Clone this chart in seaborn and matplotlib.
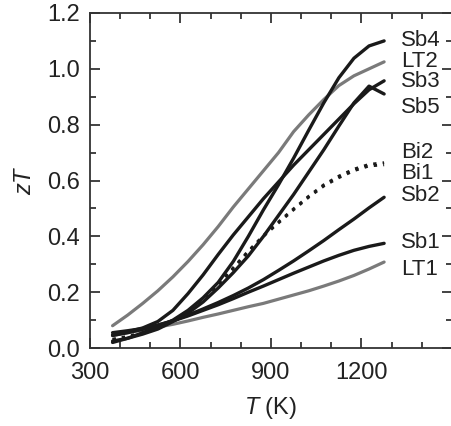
import matplotlib
matplotlib.use("Agg")
import matplotlib.pyplot as plt
import seaborn as sns
import pandas as pd

T = [375, 425, 475, 525, 575, 625, 675, 725, 775, 825, 875, 925, 975, 1025, 1075, 1125, 1175, 1225, 1275]

LT2 = [0.080, 0.118, 0.160, 0.205, 0.255, 0.310, 0.370, 0.435, 0.505, 0.570, 0.635, 0.700, 0.775, 0.835, 0.890, 0.940, 0.975, 1.000, 1.025]
LT1 = [0.045, 0.055, 0.065, 0.075, 0.085, 0.097, 0.110, 0.122, 0.135, 0.148, 0.160, 0.175, 0.190, 0.205, 0.222, 0.240, 0.260, 0.283, 0.308]
Sb1 = [0.055, 0.062, 0.070, 0.082, 0.097, 0.115, 0.135, 0.155, 0.177, 0.200, 0.222, 0.245, 0.268, 0.290, 0.312, 0.332, 0.350, 0.364, 0.375]
Sb2 = [0.045, 0.055, 0.067, 0.082, 0.098, 0.118, 0.140, 0.163, 0.188, 0.215, 0.245, 0.278, 0.312, 0.348, 0.385, 0.424, 0.462, 0.502, 0.540]
Sb3 = [0.047, 0.058, 0.072, 0.095, 0.135, 0.195, 0.262, 0.335, 0.405, 0.470, 0.535, 0.595, 0.655, 0.710, 0.765, 0.820, 0.875, 0.925, 0.957]
Sb4 = [0.020, 0.035, 0.055, 0.075, 0.100, 0.135, 0.180, 0.235, 0.310, 0.400, 0.495, 0.585, 0.680, 0.780, 0.878, 0.968, 1.038, 1.082, 1.100]
Sb5 = [0.025, 0.035, 0.050, 0.068, 0.095, 0.125, 0.165, 0.215, 0.270, 0.330, 0.400, 0.475, 0.550, 0.630, 0.710, 0.795, 0.878, 0.938, 0.910]
Bi1 = [0.030, 0.040, 0.052, 0.070, 0.095, 0.130, 0.175, 0.225, 0.285, 0.345, 0.400, 0.448, 0.495, 0.540, 0.580, 0.610, 0.635, 0.652, 0.656]
Bi2 = [0.032, 0.042, 0.055, 0.073, 0.098, 0.133, 0.178, 0.228, 0.288, 0.348, 0.403, 0.452, 0.499, 0.544, 0.585, 0.616, 0.641, 0.658, 0.664]

labels = ["Sb4", "LT2", "Sb3", "Sb5", "Bi2", "Bi1", "Sb2", "Sb1", "LT1"]
label_y = [1.100, 1.028, 0.953, 0.862, 0.700, 0.625, 0.548, 0.378, 0.280]
label_T = 1330

xticks = [300, 600, 900, 1200]
yticks = [0.0, 0.2, 0.4, 0.6, 0.8, 1.0, 1.2]

series = {"LT2": LT2, "LT1": LT1, "Sb1": Sb1, "Sb2": Sb2, "Sb3": Sb3,
          "Sb4": Sb4, "Sb5": Sb5, "Bi1": Bi1, "Bi2": Bi2}

rows = []
for name, vals in series.items():
    for t, v in zip(T, vals):
        rows.append({"T": t, "zT": v, "sample": name})
df = pd.DataFrame(rows)

sns.set_theme(style="ticks")
plt.rcParams["font.family"] = ["Liberation Sans", "DejaVu Sans"]
plt.rcParams["mathtext.fontset"] = "custom"
plt.rcParams["mathtext.rm"] = "Liberation Sans"
plt.rcParams["mathtext.it"] = "Liberation Sans:italic"

fig = plt.figure(figsize=(4.52, 4.26), dpi=100)
ax = fig.add_axes([0.199, 0.183, 0.801, 0.7865])

gray = "#7a7a7a"
black = "#1a1a1a"
for name in ["LT1", "LT2"]:
    sns.lineplot(data=df[df["sample"] == name], x="T", y="zT", ax=ax,
                 color=gray, lw=2.3, legend=False)
for name in ["Sb1", "Sb2", "Sb3", "Sb4", "Sb5"]:
    sns.lineplot(data=df[df["sample"] == name], x="T", y="zT", ax=ax,
                 color=black, lw=2.4, legend=False)
for name in ["Bi1", "Bi2"]:
    sns.lineplot(data=df[df["sample"] == name], x="T", y="zT", ax=ax,
                 color=black, lw=2.0, linestyle=(0, (1.2, 2.2)), legend=False)

for lab, yv in zip(labels, label_y):
    ax.text(label_T, yv, lab, fontsize=16, va="center", ha="left", color="#222222")

ax.set_xlim(300, 1500)
ax.set_ylim(0, 1.2)
ax.set_xticks(xticks)
ax.set_xticks(range(300, 1501, 100), minor=True)
ax.set_yticks(yticks)
ax.set_yticklabels([f"{v:.1f}" for v in yticks])
ax.set_yticks([i / 10 for i in range(0, 13)], minor=True)
ax.tick_params(which="both", direction="in", top=True, right=True,
               labelsize=17, colors="#222222", pad=7)
ax.tick_params(axis="x", which="both", pad=10)
ax.tick_params(which="major", length=7, width=1.2)
ax.tick_params(which="minor", length=4.5, width=1.2)
for s in ax.spines.values():
    s.set_linewidth(1.3)
    s.set_color("#333333")

ax.set_xlabel(r"$T$ (K)", fontsize=17, color="#222222", labelpad=8)
ax.set_ylabel(r"$zT$", fontsize=17, color="#222222", labelpad=8)

fig.savefig("out.png", dpi=100)
